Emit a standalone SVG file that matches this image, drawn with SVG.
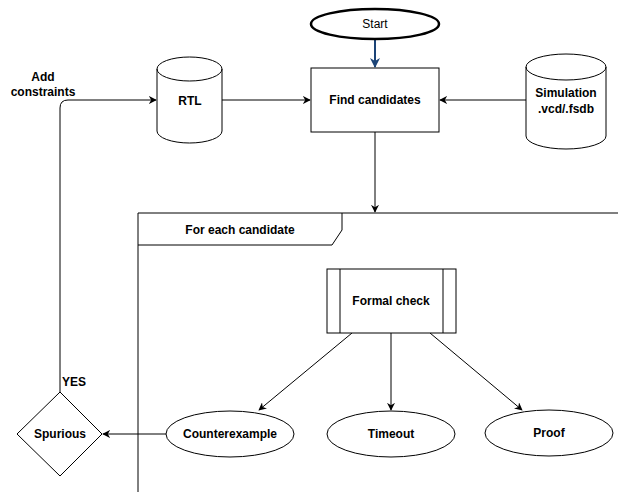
<svg xmlns="http://www.w3.org/2000/svg" width="618" height="492" viewBox="0 0 618 492">
<style>
.s{fill:#fff;stroke:#000;stroke-width:1}
.c{fill:none;stroke:#000;stroke-width:1}
.t{font-family:"Liberation Sans",Arial,sans-serif;font-size:12px;font-weight:bold;fill:#000;text-anchor:middle}
.r{font-family:"Liberation Sans",Arial,sans-serif;font-size:12px;fill:#000;text-anchor:middle}
</style>
<defs>
<marker id="a" viewBox="0 0 10 10" refX="9" refY="5" markerWidth="8" markerHeight="8" markerUnits="userSpaceOnUse" orient="auto">
<path d="M0,0 L10,5 L0,10 L3,5 Z" fill="#000"/>
</marker>
<marker id="b" viewBox="0 0 10 10" refX="9" refY="5" markerWidth="10" markerHeight="10" markerUnits="userSpaceOnUse" orient="auto">
<path d="M0,0 L10,5 L0,10 L3,5 Z" fill="#1c4477"/>
</marker>
</defs>
<g id="frame">
<path class="c" d="M138,492 L138,213 L618,213"/>
<path class="c" d="M138,245 L332,245 L342,230 L342,213"/>
<text class="t" x="240" y="234">For each candidate</text>
</g>
<g id="connectors">
<line x1="375" y1="39" x2="375" y2="67" stroke="#1c4477" stroke-width="2" marker-end="url(#b)"/>
<line class="c" x1="222" y1="100" x2="310" y2="100" marker-end="url(#a)"/>
<line class="c" x1="526" y1="100" x2="440" y2="100" marker-end="url(#a)"/>
<line class="c" x1="375" y1="132" x2="375" y2="212" marker-end="url(#a)"/>
<path class="c" d="M60,392 L60,108 Q60,100 68,100 L156,100" marker-end="url(#a)"/>
<line class="c" x1="352" y1="333" x2="259" y2="410" marker-end="url(#a)"/>
<line class="c" x1="391" y1="333" x2="391" y2="410" marker-end="url(#a)"/>
<line class="c" x1="430" y1="333" x2="522" y2="410" marker-end="url(#a)"/>
<line class="c" x1="166" y1="434" x2="103" y2="434" marker-end="url(#a)"/>
<text class="t" x="43" y="81">Add</text>
<text class="t" x="43" y="96">constraints</text>
<text class="t" x="74" y="386">YES</text>
</g>
<g id="start">
<ellipse cx="375" cy="24" rx="64" ry="15" fill="#fff" stroke="#000" stroke-width="2.5"/>
<text class="r" x="375" y="28">Start</text>
</g>
<g id="find">
<rect class="s" x="311" y="68" width="128" height="64"/>
<text class="t" x="375" y="104">Find candidates</text>
</g>
<g id="rtl">
<path class="s" d="M157,69 A32.5,12 0 0 1 222,69 L222,131 A32.5,12 0 0 1 157,131 Z"/>
<path class="c" d="M157,69 A32.5,12 0 0 0 222,69"/>
<text class="t" x="190" y="105">RTL</text>
</g>
<g id="sim">
<path class="s" d="M526,67 A40,13 0 0 1 606,67 L606,136 A40,13 0 0 1 526,136 Z"/>
<path class="c" d="M526,67 A40,13 0 0 0 606,67"/>
<text class="t" x="566" y="97">Simulation</text>
<text class="t" x="566" y="113">.vcd/.fsdb</text>
</g>
<g id="formal">
<rect class="s" x="327" y="269" width="129" height="64"/>
<line class="c" x1="340" y1="269" x2="340" y2="333"/>
<line class="c" x1="443" y1="269" x2="443" y2="333"/>
<text class="t" x="391" y="305">Formal check</text>
</g>
<g id="counterexample">
<ellipse class="s" cx="230" cy="434" rx="64" ry="23"/>
<text class="t" x="230" y="438">Counterexample</text>
</g>
<g id="timeout">
<ellipse class="s" cx="391" cy="434" rx="64" ry="23"/>
<text class="t" x="391" y="438">Timeout</text>
</g>
<g id="proof">
<ellipse class="s" cx="549" cy="433" rx="64" ry="23"/>
<text class="t" x="549" y="437">Proof</text>
</g>
<g id="spurious">
<polygon class="s" points="60,392 102,434 60,476 17,434"/>
<text class="t" x="60" y="438">Spurious</text>
</g>
</svg>
